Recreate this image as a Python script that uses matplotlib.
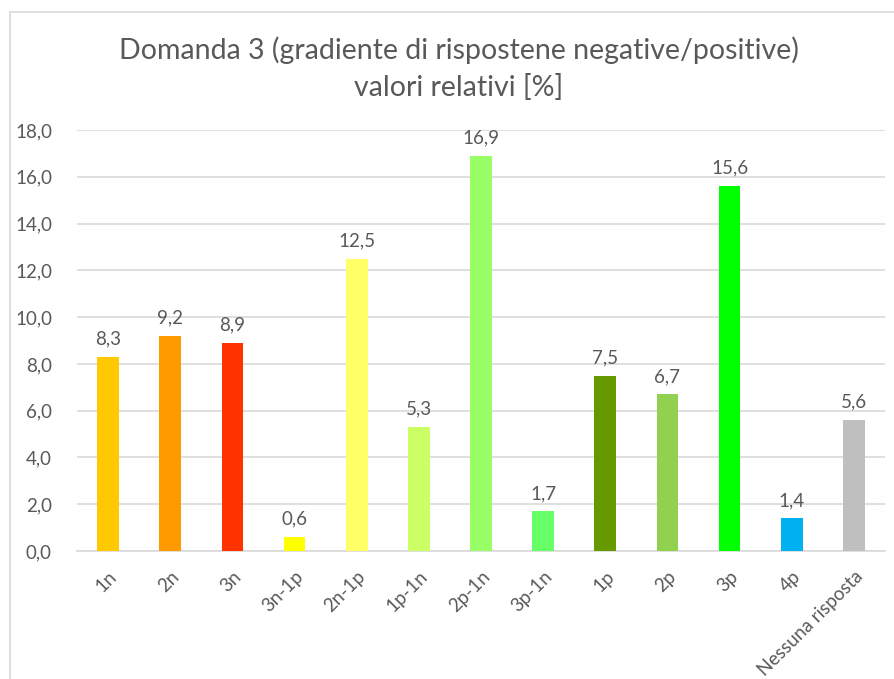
import matplotlib.pyplot as plt
import numpy as np
from matplotlib.patches import Rectangle

categories = ['1n', '2n', '3n', '3n-1p', '2n-1p', '1p-1n', '2p-1n', '3p-1n',
              '1p', '2p', '3p', '4p', 'Nessuna risposta']
values = [8.3, 9.2, 8.9, 0.6, 12.5, 5.3, 16.9, 1.7, 7.5, 6.7, 15.6, 1.4, 5.6]
colors = ['#FFC800', '#FF9900', '#FF3300', '#FFFF00', '#FFFF66', '#CCFF66',
          '#99FF66', '#66FF66', '#669900', '#92D050', '#00FF00', '#00B0F0',
          '#BFBFBF']
yticks = np.arange(0, 19, 2)

plt.rcParams['font.family'] = ['Lato', 'DejaVu Sans']
txt = '#595959'

fig = plt.figure(figsize=(8.95, 6.79), dpi=100)
W, H = 895, 679
ax = fig.add_axes([77 / W, 1 - 551 / H, (885 - 77) / W, (551 - 130) / H])

x = np.arange(len(categories))
ax.bar(x, values, width=0.35, color=colors, zorder=3)
for xi, v in zip(x, values):
    ax.text(xi, v + 0.4, f'{v:.1f}'.replace('.', ','), ha='center', va='bottom',
            fontsize=13.5, color=txt)

ax.set_xlim(-0.5, len(categories) - 0.5)
ax.set_ylim(0, 18)
ax.set_yticks(yticks)
ax.set_yticklabels([f'{t:.1f}'.replace('.', ',') for t in yticks], fontsize=13.5, color=txt)
ax.set_xticks(x)
ax.set_xticklabels(categories, rotation=45, ha='right', va='top',
                   rotation_mode='anchor', fontsize=13.5, color=txt)
ax.tick_params(length=0, pad=12)
ax.tick_params(axis='y', pad=18)
ax.grid(axis='y', color='#D9D9D9', linewidth=1.2, zorder=0)
for s in ['top', 'right', 'left']:
    ax.spines[s].set_visible(False)
ax.spines['bottom'].set_color('#D9D9D9')
ax.spines['bottom'].set_linewidth(1.2)

fig.text(459 / W, 1 - 50 / H, 'Domanda 3 (gradiente di rispostene negative/positive)',
         ha='center', va='center', fontsize=20.5, color=txt)
fig.text(459 / W, 1 - 88 / H, 'valori relativi [%]',
         ha='center', va='center', fontsize=20.5, color=txt)

fig.patches.append(Rectangle((10 / W, -0.1), 1.2, 1 - 12 / H + 0.1,
                             transform=fig.transFigure, fill=False,
                             edgecolor='#D9D9D9', linewidth=1.2))

fig.savefig('out.png', dpi=100)
